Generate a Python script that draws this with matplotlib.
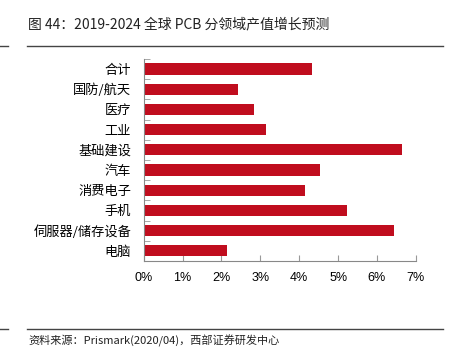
import matplotlib
matplotlib.use('Agg')
import matplotlib.pyplot as plt
import numpy as np

plt.rcParams['font.family'] = ['Noto Sans CJK SC', 'DejaVu Sans']

categories = ["合计", "国防/航天", "医疗", "工业", "基础建设", "汽车",
              "消费电子", "手机", "伺服器/储存设备", "电脑"]
growth = [4.34, 2.43, 2.84, 3.14, 6.64, 4.54, 4.14, 5.24, 6.44, 2.13]
x_ticks = [0, 1, 2, 3, 4, 5, 6, 7]
x_labels = ["0%", "1%", "2%", "3%", "4%", "5%", "6%", "7%"]

title = "图 44：2019-2024 全球 PCB 分领域产值增长预测"
source = "资料来源：Prismark(2020/04)，西部证券研发中心"

fig = plt.figure(figsize=(4.52, 3.59), dpi=100)
ax = fig.add_axes([0.318, 0.273, 0.602, 0.563])

y = np.arange(len(categories))
ax.barh(y, growth, height=0.55, color="#C00D1E", zorder=2)
ax.set_ylim(len(categories) - 0.5, -0.5)
ax.set_xlim(0, 7)

ax.set_yticks(y)
ax.set_yticklabels(categories, fontsize=9.5)
ax.set_yticks(np.arange(len(categories) + 1) - 0.5, minor=True)
ax.tick_params(axis='y', which='major', length=0, pad=9)
ax.tick_params(axis='y', which='minor', direction='in', length=4, color="#999999")

ax.set_xticks(x_ticks)
ax.set_xticklabels(x_labels, fontsize=9, family=['Liberation Sans', 'DejaVu Sans'])
ax.tick_params(axis='x', direction='in', length=4, color="#999999", pad=8)

for s in ['top', 'right']:
    ax.spines[s].set_visible(False)
for s in ['left', 'bottom']:
    ax.spines[s].set_color("#888888")
    ax.spines[s].set_linewidth(0.8)

# header / footer
fig.text(28 / 452, 1 - 24 / 359, title, fontsize=10, va='center', ha='left', color="#222222")
fig.add_artist(plt.Line2D([27 / 452, 443 / 452], [1 - 46 / 359] * 2, color="#444444", lw=1))
fig.add_artist(plt.Line2D([0, 8 / 452], [1 - 46 / 359] * 2, color="#444444", lw=1))
fig.add_artist(plt.Line2D([27 / 452, 443 / 452], [1 - 329 / 359] * 2, color="#444444", lw=1))
fig.add_artist(plt.Line2D([0, 8 / 452], [1 - 329 / 359] * 2, color="#444444", lw=1))
fig.text(28 / 452, 1 - 341 / 359, source, fontsize=8, va='center', ha='left', color="#222222")

plt.savefig("out.png", dpi=100)
plt.close()
